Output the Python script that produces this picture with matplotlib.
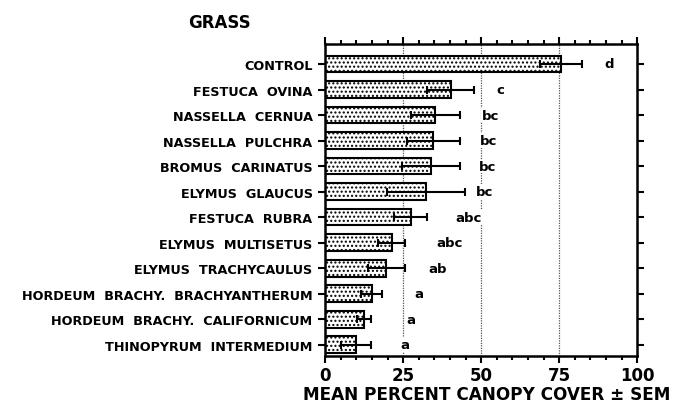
import matplotlib
matplotlib.use("Agg")
import matplotlib.pyplot as plt
from matplotlib.ticker import MultipleLocator

plt.rcParams['font.family'] = ['DejaVu Sans']
plt.rcParams['font.weight'] = 'bold'
plt.rcParams['hatch.linewidth'] = 1.0

species = [
    "CONTROL",
    "FESTUCA  OVINA",
    "NASSELLA  CERNUA",
    "NASSELLA  PULCHRA",
    "BROMUS  CARINATUS",
    "ELYMUS  GLAUCUS",
    "FESTUCA  RUBRA",
    "ELYMUS  MULTISETUS",
    "ELYMUS  TRACHYCAULUS",
    "HORDEUM  BRACHY.  BRACHYANTHERUM",
    "HORDEUM  BRACHY.  CALIFORNICUM",
    "THINOPYRUM  INTERMEDIUM",
]
mean_cover = [75.5, 40.2, 35.3, 34.6, 33.8, 32.4, 27.4, 21.3, 19.6, 14.9, 12.4, 10.0]
sem = [6.7, 7.5, 7.8, 8.5, 9.3, 12.5, 5.3, 4.3, 6.0, 3.3, 2.2, 4.8]
groups = ["d", "c", "bc", "bc", "bc", "bc", "abc", "abc", "ab", "a", "a", "a"]
group_x = [91, 56, 53, 52.5, 52, 51, 46, 40, 36, 30, 27.5, 25.5]

fig = plt.figure(figsize=(6.83, 4.10), dpi=100)
ax = fig.add_axes([0.476, 0.129, 0.457, 0.761])

rows = list(range(len(species)))

# dotted reference lines at 25 / 50 / 75
for xv in (25, 50, 75):
    ax.axvline(xv, color='#555555', linestyle=(0, (1, 1)), linewidth=0.9, zorder=0)

ax.barh(rows, mean_cover, height=0.66, color='white', edgecolor='black',
        hatch='....', linewidth=1.5, zorder=2)
ax.errorbar(mean_cover, rows, xerr=sem, fmt='none', ecolor='black',
            elinewidth=1.5, capsize=3, capthick=1.5, zorder=3)

for r, g, gx in zip(rows, groups, group_x):
    ax.text(gx, r, g, ha='center', va='center', fontsize=9.5, fontweight='bold',
            bbox=dict(facecolor='white', edgecolor='none', pad=0.5), zorder=4)

ax.set_xlim(0, 100)
ax.set_ylim(11.45, -0.78)
ax.set_yticks(rows)
ax.set_yticklabels(species, fontsize=9.2, fontweight='bold')
ax.set_xticks([0, 25, 50, 75, 100])
ax.set_xticklabels(['0', '25', '50', '75', '100'], fontsize=12, fontweight='bold')
ax.xaxis.set_minor_locator(MultipleLocator(5))

ax.tick_params(axis='x', which='major', direction='out', length=5, width=1.5,
               top=True, bottom=True, pad=2)
ax.tick_params(axis='x', which='minor', direction='out', length=3, width=1.5,
               top=True, bottom=True)
ax.tick_params(axis='y', which='major', direction='out', length=5, width=1.5,
               left=True, right=True, pad=4)

for sp in ax.spines.values():
    sp.set_linewidth(1.8)

fig.text(0.713, 0.037, "MEAN PERCENT CANOPY COVER \u00b1 SEM", fontsize=12.2,
         fontweight='bold', ha='center', va='center')
fig.text(0.322, 0.945, "GRASS", fontsize=12, fontweight='bold', ha='center', va='center')

fig.savefig("out.png", dpi=100, facecolor='white')
